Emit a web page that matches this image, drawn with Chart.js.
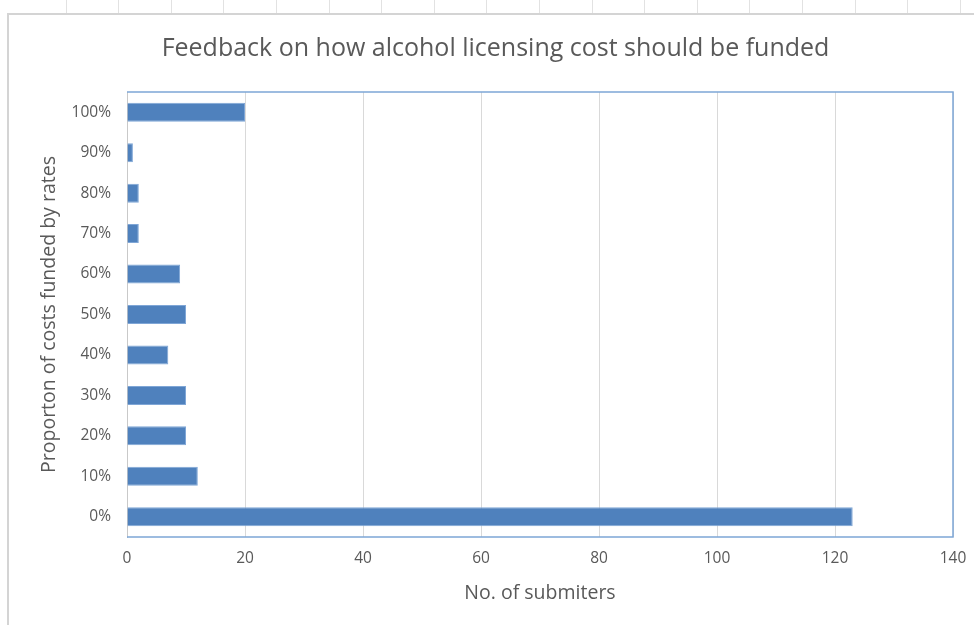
<!DOCTYPE html>
<html>
<head>
<meta charset="utf-8">
<script src="https://cdn.jsdelivr.net/npm/chart.js@4.4.1/dist/chart.umd.min.js"></script>
<style>
  html, body { margin: 0; padding: 0; background: #ffffff; }
  #wrap { width: 974px; height: 625px; position: relative; }
</style>
</head>
<body>
<div id="wrap"><canvas id="chart"></canvas></div>
<script>
// data
const categories = ['100%', '90%', '80%', '70%', '60%', '50%', '40%', '30%', '20%', '10%', '0%'];
const submitters = [20, 1, 2, 2, 9, 10, 7, 10, 10, 12, 123];
const xTicks = [0, 20, 40, 60, 80, 100, 120, 140];

const titleText = 'Feedback on how alcohol licensing cost should be funded';
const xTitle = 'No. of submiters';
const yTitle = 'Proporton of costs funded by rates';

const fontFamily = '"Open Sans", "Liberation Sans", sans-serif';
const textGrey = '#595959';

// spreadsheet background lines + blue plot border
const frame = {
    id: 'frame',
    beforeDraw(chart) {
        const ctx = chart.ctx;
        ctx.save();
        ctx.fillStyle = '#ffffff';
        ctx.fillRect(0, 0, chart.width, chart.height);
        ctx.strokeStyle = '#d4d4d4';
        ctx.lineWidth = 2;
        ctx.beginPath();
        ctx.moveTo(8, chart.height);
        ctx.lineTo(8, 14);
        ctx.lineTo(chart.width, 14);
        ctx.stroke();
        ctx.lineWidth = 1;
        ctx.strokeStyle = '#e2e2e2';
        for (let x = 65.5; x < chart.width; x += 52.6) {
            ctx.beginPath();
            ctx.moveTo(Math.round(x) + 0.5, 0);
            ctx.lineTo(Math.round(x) + 0.5, 13);
            ctx.stroke();
        }
        ctx.restore();
    },
    afterDatasetsDraw(chart) {
        const a = chart.chartArea;
        const ctx = chart.ctx;
        ctx.save();
        ctx.strokeStyle = '#7ea6d6';
        ctx.lineWidth = 1.5;
        ctx.beginPath();
        ctx.moveTo(a.left, a.top);
        ctx.lineTo(a.right, a.top);
        ctx.lineTo(a.right, a.bottom);
        ctx.lineTo(a.left, a.bottom);
        ctx.stroke();
        ctx.restore();
    }
};

new Chart(document.getElementById('chart'), {
    type: 'bar',
    data: {
        labels: categories,
        datasets: [{
            label: 'No. of submiters',
            data: submitters,
            backgroundColor: '#4f81bd',
            borderColor: '#7fa6d6',
            borderWidth: 1,
            barPercentage: 0.47,
            categoryPercentage: 1.0
        }]
    },
    options: {
        indexAxis: 'y',
        responsive: true,
        maintainAspectRatio: false,
        animation: false,
        layout: { padding: { left: 38, right: 21, top: 0, bottom: 20 } },
        scales: {
            x: {
                min: 0,
                max: 140,
                afterBuildTicks: (s) => { s.ticks = xTicks.map(v => ({ value: v })); },
                grid: { color: '#d9d9d9', lineWidth: 1, drawTicks: false },
                border: { display: false },
                ticks: { color: textGrey, font: { family: fontFamily, size: 15.5 }, padding: 12 },
                title: { display: true, text: xTitle, color: textGrey, font: { family: fontFamily, size: 19.5 }, padding: { top: 4, bottom: 0 } },
                afterFit: (s) => { s.height = 68; s.paddingRight = 0; s.paddingLeft = 0; }
            },
            y: {
                grid: { display: false, drawTicks: false },
                border: { display: true, color: '#c9c9c9' },
                ticks: { color: textGrey, font: { family: fontFamily, size: 15.5 }, padding: 16 },
                title: { display: true, text: yTitle, color: textGrey, font: { family: fontFamily, size: 19.5 }, padding: { top: 0, bottom: 0 } },
                afterFit: (s) => { s.width = 89; }
            }
        },
        plugins: {
            legend: { display: false },
            tooltip: { enabled: false },
            title: {
                display: true,
                text: titleText,
                color: textGrey,
                font: { family: fontFamily, size: 25, weight: 'normal' },
                padding: { top: 34, bottom: 28 }
            }
        }
    },
    plugins: [frame]
});
</script>
</body>
</html>
